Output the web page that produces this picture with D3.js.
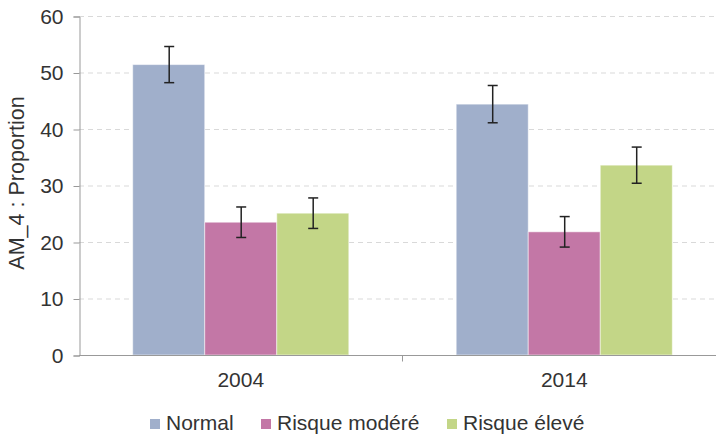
<!DOCTYPE html>
<html>
<head>
<meta charset="utf-8">
<script src="https://cdn.jsdelivr.net/npm/d3@7"></script>
<style>
  body { margin: 0; background: #fff; }
  svg { display: block; font-family: "Liberation Sans", Arial, sans-serif; }
</style>
</head>
<body>
<div id="chart"></div>
<script>
const width = 716
const height = 437

// data
const years = ['2004', '2014']
const series = ['Normal', 'Risque modéré', 'Risque élevé']
const values = {
    'Normal': [51.4, 44.4],
    'Risque modéré': [23.5, 21.8],
    'Risque élevé': [25.1, 33.6]
}
const errors = {
    'Normal': [3.2, 3.3],
    'Risque modéré': [2.7, 2.7],
    'Risque élevé': [2.7, 3.2]
}
const colors = ['#a0afcb', '#c377a6', '#c3d687']
const yTicks = [0, 10, 20, 30, 40, 50, 60]

const margin = {left: 79, right: -10, top: 16, bottom: 82}
const fontSize = '21px'

const svg = d3.select('#chart').append('svg')
    .attr('width', width)
    .attr('height', height)

const x0 = d3.scaleBand()
    .domain(years)
    .range([margin.left, width - margin.right])
    .paddingInner(0.332)
    .paddingOuter(0.166)

const x1 = d3.scaleBand()
    .domain(series)
    .range([0, x0.bandwidth()])

const y = d3.scaleLinear()
    .domain([0, 60])
    .range([height - margin.bottom, margin.top])

const color = d3.scaleOrdinal().domain(series).range(colors)

// gridlines
svg.append('g')
    .selectAll('line')
    .data(yTicks.filter(d => d > 0))
    .join('line')
    .attr('x1', margin.left)
    .attr('x2', width)
    .attr('y1', d => y(d) + 0.5)
    .attr('y2', d => y(d) + 0.5)
    .attr('stroke', '#d9d9d9')
    .attr('stroke-dasharray', '5,4')

// bars
const groups = svg.append('g')
    .selectAll('g')
    .data(years)
    .join('g')
    .attr('transform', d => `translate(${x0(d)},0)`)

const rows = (yr, i) => series.map(s => ({s, v: values[s][i], e: errors[s][i]}))

groups.selectAll('rect')
    .data(rows)
    .join('rect')
    .attr('x', d => x1(d.s))
    .attr('y', d => y(d.v))
    .attr('width', x1.bandwidth())
    .attr('height', d => y(0) - y(d.v))
    .attr('fill', d => color(d.s))
    .attr('stroke', '#fff')
    .attr('stroke-opacity', 0.5)
    .attr('stroke-width', 1)

// error bars
const eb = groups.selectAll('g.err')
    .data(rows)
    .join('g')
    .attr('class', 'err')
    .attr('stroke', '#222')
    .attr('stroke-width', 1.5)

const cx = d => Math.round(x1(d.s) + x1.bandwidth() / 2) + 0.5
eb.append('line')
    .attr('x1', cx).attr('x2', cx)
    .attr('y1', d => y(d.v + d.e)).attr('y2', d => y(d.v - d.e))
eb.append('line')
    .attr('x1', d => cx(d) - 5).attr('x2', d => cx(d) + 5)
    .attr('y1', d => y(d.v + d.e)).attr('y2', d => y(d.v + d.e))
eb.append('line')
    .attr('x1', d => cx(d) - 5).attr('x2', d => cx(d) + 5)
    .attr('y1', d => y(d.v - d.e)).attr('y2', d => y(d.v - d.e))

// y axis
const yAxis = svg.append('g')
    .attr('transform', `translate(${margin.left + 0.5},0.5)`)
    .call(d3.axisLeft(y).tickValues(yTicks).tickSize(6).tickPadding(10))
yAxis.select('.domain').attr('stroke', '#999')
yAxis.selectAll('.tick line').attr('stroke', '#999')
yAxis.selectAll('.tick text')
    .attr('fill', '#333')
    .style('font-size', fontSize)
    .style('font-family', '"Liberation Sans", Arial, sans-serif')

// x axis
const xAxis = svg.append('g')
    .attr('transform', `translate(0,${y(0) + 0.5})`)
xAxis.append('line')
    .attr('x1', margin.left).attr('x2', width)
    .attr('stroke', '#999')
xAxis.append('line')
    .attr('x1', (x0('2004') + x0.bandwidth() + x0('2014')) / 2)
    .attr('x2', (x0('2004') + x0.bandwidth() + x0('2014')) / 2)
    .attr('y1', 0).attr('y2', 6)
    .attr('stroke', '#999')
xAxis.selectAll('text')
    .data(years)
    .join('text')
    .attr('x', d => x0(d) + x0.bandwidth() / 2)
    .attr('y', 31.5)
    .attr('text-anchor', 'middle')
    .attr('fill', '#333')
    .style('font-size', fontSize)
    .text(d => d)

// y title
svg.append('text')
    .attr('transform', `translate(24,183) rotate(-90)`)
    .attr('text-anchor', 'middle')
    .attr('fill', '#333')
    .style('font-size', '21.5px')
    .text('AM_4 : Proportion')

// legend
const legendX = [150, 261, 447]
const legend = svg.append('g')
    .selectAll('g')
    .data(series)
    .join('g')
    .attr('transform', (d, i) => `translate(${legendX[i]},419)`)
legend.append('rect')
    .attr('width', 10).attr('height', 10)
    .attr('fill', d => color(d))
legend.append('text')
    .attr('x', 16)
    .attr('y', 11)
    .attr('fill', '#333')
    .style('font-size', fontSize)
    .text(d => d)
</script>
</body>
</html>
